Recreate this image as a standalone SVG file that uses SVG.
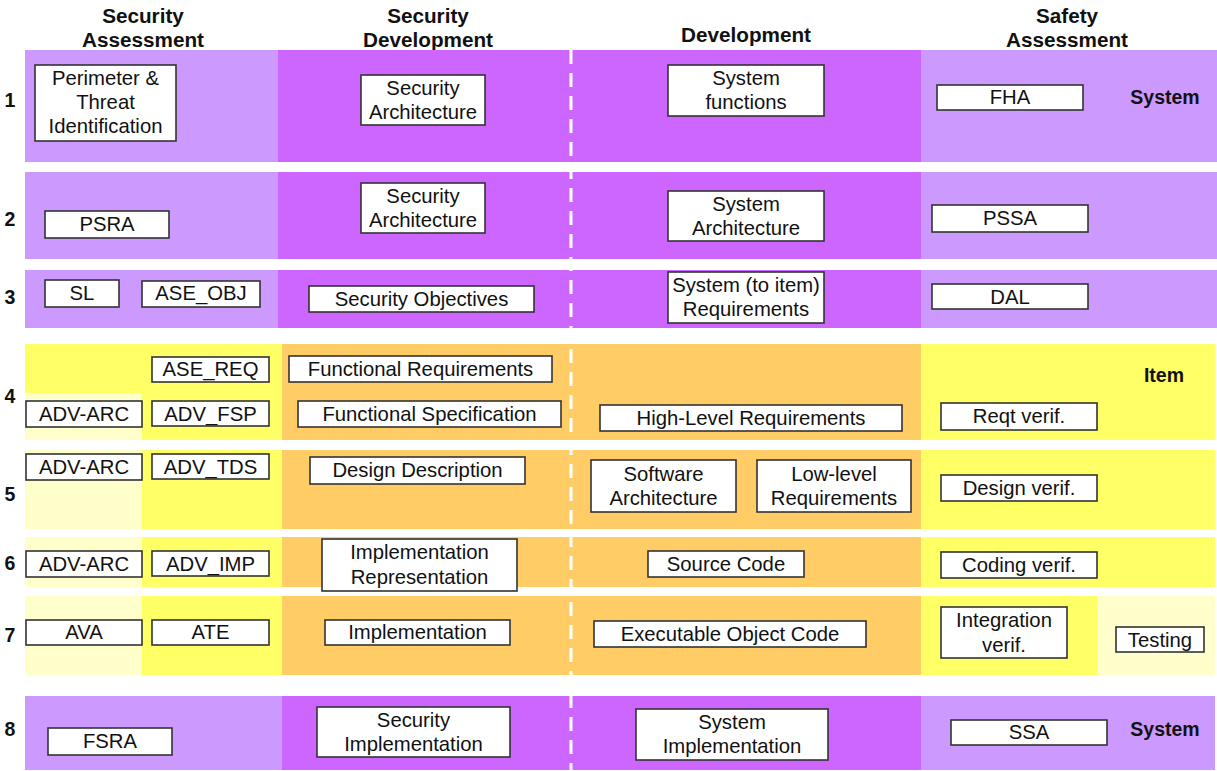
<svg xmlns="http://www.w3.org/2000/svg" width="1217" height="771" viewBox="0 0 1217 771">
<style>
text{font-family:"Liberation Sans",Arial,sans-serif;font-size:20.3px;fill:#111;text-anchor:middle}
.h{font-weight:bold;font-size:20.7px}
.n{font-weight:bold;font-size:19.5px}
.lp{fill:#CC99FF}.sp{fill:#CC66FF}.y{fill:#FFFF66}.o{fill:#FFCC66}.py{fill:#FFFFCC}
.box rect{fill:#fff;stroke:#333;stroke-width:1.6}
</style>
<rect width="1217" height="771" fill="#fff"/>
<g id="headers">
<text class="h" x="143" y="23">Security</text><text class="h" x="143" y="47">Assessment</text>
<text class="h" x="428" y="23">Security</text><text class="h" x="428" y="47">Development</text>
<text class="h" x="746" y="42">Development</text>
<text class="h" x="1067" y="23">Safety</text><text class="h" x="1067" y="47">Assessment</text>
</g>
<g id="bands">
<rect class="lp" x="25" y="50" width="253" height="112"/><rect class="sp" x="278" y="50" width="643" height="112"/><rect class="lp" x="921" y="50" width="296" height="112"/>
<rect class="lp" x="25" y="172" width="253" height="87"/><rect class="sp" x="278" y="172" width="643" height="87"/><rect class="lp" x="921" y="172" width="296" height="87"/>
<rect class="lp" x="25" y="270" width="253" height="58"/><rect class="sp" x="278" y="270" width="643" height="58"/><rect class="lp" x="921" y="270" width="296" height="58"/>
<rect class="y" x="25" y="344" width="257" height="96"/><rect class="py" x="25" y="393" width="117" height="47"/><rect class="o" x="282" y="344" width="639" height="96"/><rect class="y" x="921" y="344" width="294" height="96"/>
<rect class="y" x="142" y="450" width="140" height="79"/><rect class="py" x="25" y="450" width="117" height="79"/><rect class="o" x="282" y="450" width="639" height="79"/><rect class="y" x="921" y="450" width="294" height="79"/>
<rect class="y" x="142" y="537" width="140" height="50"/><rect class="py" x="25" y="537" width="117" height="50"/><rect class="o" x="282" y="537" width="639" height="50"/><rect class="y" x="921" y="537" width="294" height="50"/>
<rect class="y" x="142" y="596" width="140" height="79"/><rect class="py" x="25" y="596" width="117" height="79"/><rect class="o" x="282" y="596" width="639" height="79"/><rect class="y" x="921" y="596" width="176" height="79"/><rect class="py" x="1097" y="596" width="118" height="79"/>
<rect class="lp" x="25" y="696" width="257" height="74"/><rect class="sp" x="282" y="696" width="639" height="74"/><rect class="lp" x="921" y="696" width="294" height="74"/>
</g>
<g id="connectors">
<line x1="571" y1="50" x2="571" y2="770" stroke="#fff" stroke-width="3" stroke-dasharray="14 9"/>
</g>
<g id="labels">
<text class="n" x="10" y="107">1</text><text class="n" x="10" y="226">2</text><text class="n" x="10" y="304">3</text><text class="n" x="10" y="403">4</text>
<text class="n" x="10" y="501">5</text><text class="n" x="10" y="570">6</text><text class="n" x="10" y="642">7</text><text class="n" x="10" y="736">8</text>
<text class="n" x="1165" y="104">System</text><text class="n" x="1164" y="382">Item</text><text class="n" x="1165" y="736">System</text>
</g>
<g id="r1-perimeter" class="box"><rect x="35" y="65" width="141" height="76"/><text x="105.5" y="85">Perimeter &amp;</text><text x="105.5" y="109">Threat</text><text x="105.5" y="133">Identification</text></g>
<g id="r1-secarch" class="box"><rect x="361" y="75" width="124" height="50"/><text x="423" y="95">Security</text><text x="423" y="119">Architecture</text></g>
<g id="r1-sysfunc" class="box"><rect x="668" y="65" width="156" height="51"/><text x="746" y="85">System</text><text x="746" y="109">functions</text></g>
<g id="r1-fha" class="box"><rect x="937" y="85" width="146" height="25"/><text x="1010" y="104">FHA</text></g>
<g id="r2-psra" class="box"><rect x="45" y="211" width="124" height="27"/><text x="107" y="231">PSRA</text></g>
<g id="r2-secarch" class="box"><rect x="361" y="183" width="124" height="50"/><text x="423" y="203">Security</text><text x="423" y="227">Architecture</text></g>
<g id="r2-sysarch" class="box"><rect x="668" y="191" width="156" height="50"/><text x="746" y="211">System</text><text x="746" y="235">Architecture</text></g>
<g id="r2-pssa" class="box"><rect x="932" y="205" width="156" height="27"/><text x="1010" y="225">PSSA</text></g>
<g id="r3-sl" class="box"><rect x="45" y="280" width="74" height="27"/><text x="82" y="300">SL</text></g>
<g id="r3-aseobj" class="box"><rect x="142" y="281" width="118" height="26"/><text x="201" y="300">ASE_OBJ</text></g>
<g id="r3-secobj" class="box"><rect x="309" y="286" width="225" height="26"/><text x="421.5" y="306">Security Objectives</text></g>
<g id="r3-sysreq" class="box"><rect x="668" y="272" width="156" height="51"/><text x="746" y="292">System (to item)</text><text x="746" y="316">Requirements</text></g>
<g id="r3-dal" class="box"><rect x="932" y="284" width="156" height="25"/><text x="1010" y="304">DAL</text></g>
<g id="r4-asereq" class="box"><rect x="152" y="357" width="117" height="25"/><text x="210.5" y="376">ASE_REQ</text></g>
<g id="r4-funcreq" class="box"><rect x="289" y="356" width="263" height="26"/><text x="420.5" y="376">Functional Requirements</text></g>
<g id="r4-advarc" class="box"><rect x="26" y="401" width="116" height="26"/><text x="84" y="421">ADV-ARC</text></g>
<g id="r4-advfsp" class="box"><rect x="152" y="401" width="117" height="25"/><text x="210.5" y="421">ADV_FSP</text></g>
<g id="r4-funcspec" class="box"><rect x="298" y="401" width="263" height="26"/><text x="429.5" y="421">Functional Specification</text></g>
<g id="r4-hlr" class="box"><rect x="600" y="405" width="302" height="26"/><text x="751" y="425">High-Level Requirements</text></g>
<g id="r4-reqtverif" class="box"><rect x="941" y="403" width="156" height="27"/><text x="1019" y="423">Reqt verif.</text></g>
<g id="r5-advarc" class="box"><rect x="26" y="454" width="116" height="26"/><text x="84" y="474">ADV-ARC</text></g>
<g id="r5-advtds" class="box"><rect x="152" y="454" width="117" height="25"/><text x="210.5" y="474">ADV_TDS</text></g>
<g id="r5-designdesc" class="box"><rect x="310" y="457" width="215" height="27"/><text x="417.5" y="477">Design Description</text></g>
<g id="r5-swarch" class="box"><rect x="591" y="460" width="145" height="52"/><text x="663.5" y="481">Software</text><text x="663.5" y="505">Architecture</text></g>
<g id="r5-llr" class="box"><rect x="757" y="460" width="154" height="52"/><text x="834" y="481">Low-level</text><text x="834" y="505">Requirements</text></g>
<g id="r5-designverif" class="box"><rect x="941" y="475" width="156" height="26"/><text x="1019" y="495">Design verif.</text></g>
<g id="r6-advarc" class="box"><rect x="26" y="551" width="116" height="26"/><text x="84" y="571">ADV-ARC</text></g>
<g id="r6-advimp" class="box"><rect x="152" y="551" width="117" height="25"/><text x="210.5" y="571">ADV_IMP</text></g>
<g id="r6-implrep" class="box"><rect x="322" y="539" width="195" height="52"/><text x="419.5" y="559">Implementation</text><text x="419.5" y="584">Representation</text></g>
<g id="r6-source" class="box"><rect x="648" y="551" width="156" height="26"/><text x="726" y="571">Source Code</text></g>
<g id="r6-codingverif" class="box"><rect x="941" y="552" width="156" height="26"/><text x="1019" y="572">Coding verif.</text></g>
<g id="r7-ava" class="box"><rect x="26" y="620" width="116" height="25"/><text x="84" y="639">AVA</text></g>
<g id="r7-ate" class="box"><rect x="152" y="620" width="117" height="25"/><text x="210.5" y="639">ATE</text></g>
<g id="r7-impl" class="box"><rect x="325" y="620" width="185" height="25"/><text x="417.5" y="639">Implementation</text></g>
<g id="r7-eoc" class="box"><rect x="594" y="621" width="272" height="26"/><text x="730" y="641">Executable Object Code</text></g>
<g id="r7-intverif" class="box"><rect x="941" y="607" width="126" height="51"/><text x="1004" y="627">Integration</text><text x="1004" y="652">verif.</text></g>
<g id="r7-testing" class="box"><rect x="1116" y="627" width="88" height="25"/><text x="1160" y="647">Testing</text></g>
<g id="r8-fsra" class="box"><rect x="48" y="728" width="124" height="27"/><text x="110" y="748">FSRA</text></g>
<g id="r8-secimpl" class="box"><rect x="317" y="707" width="193" height="50"/><text x="413.5" y="727">Security</text><text x="413.5" y="751">Implementation</text></g>
<g id="r8-sysimpl" class="box"><rect x="636" y="709" width="192" height="51"/><text x="732" y="729">System</text><text x="732" y="753">Implementation</text></g>
<g id="r8-ssa" class="box"><rect x="951" y="720" width="156" height="25"/><text x="1029" y="739">SSA</text></g>
</svg>
